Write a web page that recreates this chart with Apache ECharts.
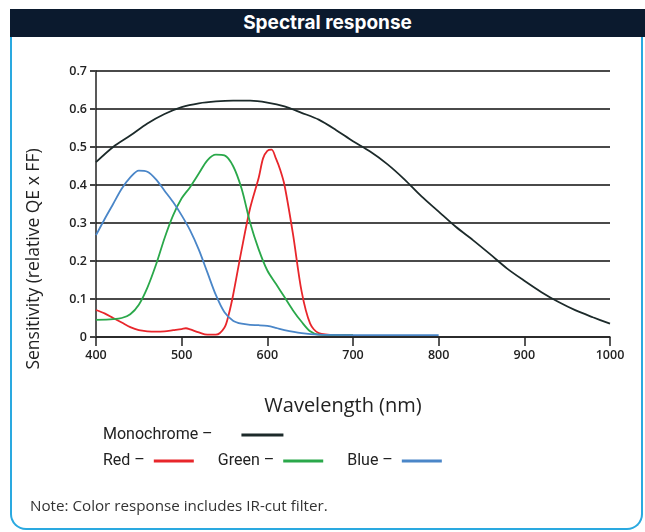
<!DOCTYPE html>
<html>
<head>
<meta charset="utf-8">
<script src="https://cdn.jsdelivr.net/npm/echarts@6/dist/echarts.min.js"></script>
<style>
html,body{margin:0;padding:0;background:#fff;width:645px;height:532px;overflow:hidden;font-family:"Open Sans",Inter,sans-serif;}
#header{position:absolute;left:10px;top:9px;width:635px;height:28px;background:#0b1a2e;color:#fff;font-family:Inter,"Open Sans",sans-serif;font-weight:700;font-size:19px;line-height:28px;text-align:center;box-sizing:border-box;padding-right:0px;}
#panel{position:absolute;left:10px;top:37px;width:633px;height:493px;border:2px solid #2aa9e0;border-top:none;border-radius:0 0 16px 16px;box-sizing:border-box;}
#chart{position:absolute;left:0;top:0;width:645px;height:532px;}
</style>
</head>
<body>
<div id="header">Spectral response</div>
<div id="panel"></div>
<div id="chart"></div>
<script>
var xTicks = [400, 500, 600, 700, 800, 900, 1000];
var yTicks = [0, 0.1, 0.2, 0.3, 0.4, 0.5, 0.6, 0.7];

var monoX = [400,420,440,460,480,500,520,540,560,580,600,620,640,660,680,700,720,740,760,780,800,820,840,860,880,900,920,940,960,980,1000];
var monoY = [0.46,0.50,0.53,0.562,0.587,0.605,0.615,0.62,0.622,0.622,0.617,0.607,0.59,0.572,0.545,0.515,0.488,0.455,0.415,0.37,0.33,0.29,0.255,0.218,0.18,0.148,0.118,0.092,0.07,0.052,0.035];

var redX = [400,410,420,430,440,450,460,470,480,490,500,505,510,520,530,540,550,555,560,570,580,590,595,600,605,610,615,620,630,640,650,660,680,700];
var redY = [0.071,0.062,0.05,0.038,0.026,0.018,0.015,0.014,0.015,0.018,0.021,0.023,0.02,0.012,0.006,0.006,0.025,0.06,0.11,0.23,0.34,0.42,0.47,0.49,0.493,0.47,0.44,0.4,0.27,0.12,0.035,0.01,0.005,0.005];

var greenX = [400,420,430,440,450,460,470,480,490,500,510,520,530,540,550,560,570,580,590,600,610,620,630,640,650,660,680,700];
var greenY = [0.045,0.047,0.05,0.06,0.085,0.13,0.19,0.26,0.32,0.365,0.395,0.43,0.465,0.48,0.478,0.45,0.39,0.3,0.23,0.175,0.14,0.105,0.07,0.04,0.015,0.006,0.005,0.005];

var blueX = [400,410,420,430,440,450,460,470,480,490,500,510,520,530,540,550,560,570,580,590,600,610,620,640,660,700,750,800];
var blueY = [0.268,0.31,0.35,0.39,0.42,0.438,0.435,0.415,0.385,0.355,0.32,0.28,0.23,0.17,0.11,0.065,0.043,0.035,0.032,0.031,0.029,0.024,0.018,0.01,0.006,0.005,0.005,0.005];

function pairs(xs, ys){ return xs.map(function(x,i){ return [x, ys[i]]; }); }

var chart = echarts.init(document.getElementById('chart'), null, {renderer:'canvas'});
var txt = '#222';
var lineFont = 'Roboto, "Open Sans", sans-serif';
function mkSeries(name, xs, ys, color){
  return {name:name, type:'line', data:pairs(xs,ys), showSymbol:false, smooth:0.3,
    lineStyle:{color:color,width:1.8}, itemStyle:{color:color}, z:3};
}
chart.setOption({
  backgroundColor:'transparent',
  animation:false,
  grid:{left:96, right:35, top:71, bottom:195, containLabel:false},
  xAxis:{type:'value', min:xTicks[0], max:xTicks[xTicks.length-1], interval:100,
    axisLine:{show:true, onZero:false, lineStyle:{color:'#222', width:1.5}},
    axisTick:{show:true, length:9, lineStyle:{color:'#222', width:1.5}},
    axisLabel:{color:txt, fontSize:12.5, fontWeight:600, margin:12, fontFamily:'"Open Sans", sans-serif',
      formatter:function(v){ return String(v); }},
    splitLine:{show:false}},
  yAxis:{type:'value', min:yTicks[0], max:yTicks[yTicks.length-1], interval:0.1,
    axisLine:{show:true, lineStyle:{color:'#222', width:1.5}},
    axisTick:{show:true, length:6, lineStyle:{color:'#444', width:2}},
    axisLabel:{color:txt, fontSize:12.5, fontWeight:600, margin:9, fontFamily:'"Open Sans", sans-serif',
      formatter:function(v){ return v===0 ? '0' : v.toFixed(1); }},
    splitLine:{show:true, lineStyle:{color:'#4a4a4a', width:2}}},
  legend:[
    {data:['Monochrome'], left:103, top:427, padding:0, align:'right', itemWidth:42, itemHeight:3, icon:'rect',
      formatter:function(n){ return n + ' \u2013      '; }, textStyle:{fontSize:16, color:txt, fontFamily:lineFont}},
    {data:['Red','Green','Blue'], left:103, top:453, padding:0, align:'right', itemWidth:40, itemHeight:3, icon:'rect', itemGap:24,
      formatter:function(n){ return n + ' \u2013 '; }, textStyle:{fontSize:16, color:txt, fontFamily:lineFont}}
  ],
  graphic:[
    {type:'text', x:343, y:406, style:{text:'Wavelength (nm)', fontSize:20, fill:txt, align:'center', verticalAlign:'middle', fontFamily:'"Open Sans", sans-serif'}},
    {type:'text', rotation:Math.PI/2, x:34, y:259, style:{text:'Sensitivity (relative QE x FF)', fontSize:17.5, fill:txt, align:'center', verticalAlign:'middle', fontFamily:'"Open Sans", sans-serif'}},
    {type:'text', x:30, y:507, style:{text:'Note: Color response includes IR-cut filter.', fontSize:15.2, fill:'#333', verticalAlign:'middle', fontFamily:'"Open Sans", sans-serif'}}
  ],
  series:[
    mkSeries('Monochrome', monoX, monoY, '#1c2a2a'),
    mkSeries('Red', redX, redY, '#e8262b'),
    mkSeries('Green', greenX, greenY, '#2aa84a'),
    mkSeries('Blue', blueX, blueY, '#4a86c8')
  ]
});
</script>
</body>
</html>
